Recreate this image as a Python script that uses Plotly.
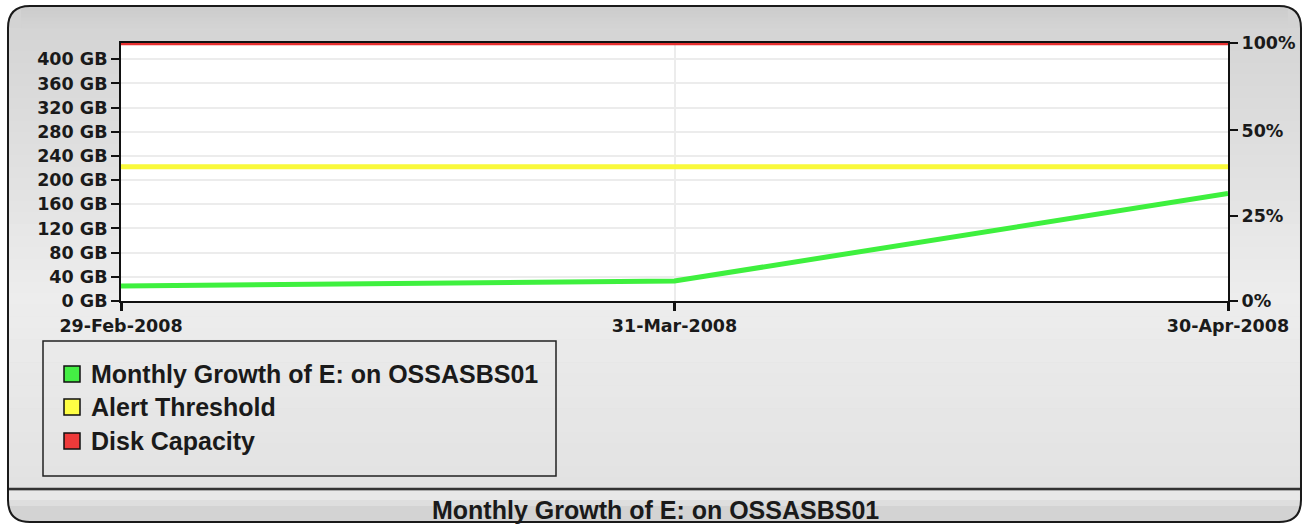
import plotly.graph_objects as go

# ---------------- data ----------------
dates = ["29-Feb-2008", "31-Mar-2008", "30-Apr-2008"]
growth_gb = [25, 33, 178]
alert_gb = [222, 222, 222]
capacity_gb = [427, 427, 427]
series_names = ["Monthly Growth of E: on OSSASBS01", "Alert Threshold", "Disk Capacity"]
series_colors = ["#3ef03e", "#f9f93a", "#e83030"]
legend_colors = ["#44ee44", "#ffff44", "#ee3a3a"]
gb_ticks = list(range(0, 401, 40))
gb_labels = [f"{v} GB" for v in gb_ticks]
pct_labels = ["0%", "25%", "50%", "100%"]
pct_positions = [0.0, 0.33, 0.661, 1.0]
title_text = "Monthly Growth of E: on OSSASBS01"

# ---------------- geometry helpers ----------------
WIDTH, HEIGHT = 1308, 526
L, R, T, B = 121, 80, 43, 225
PW = WIDTH - L - R
PH = HEIGHT - T - B
BOTTOM = HEIGHT - B


def fx(px):
    return (px - L) / PW


def fy(py):
    return (BOTTOM - py) / PH


def rounded_path(x0, y0, x1, y1, r):
    pts = [
        ("M", [(x0 + r, y0)]), ("L", [(x1 - r, y0)]), ("Q", [(x1, y0), (x1, y0 + r)]),
        ("L", [(x1, y1 - r)]), ("Q", [(x1, y1), (x1 - r, y1)]), ("L", [(x0 + r, y1)]),
        ("Q", [(x0, y1), (x0, y1 - r)]), ("L", [(x0, y0 + r)]), ("Q", [(x0, y0), (x0 + r, y0)]),
    ]
    s = ""
    for cmd, ps in pts:
        s += cmd + " " + " ".join(f"{fx(a):.5f},{fy(b):.5f}" for a, b in ps) + " "
    return s + "Z"


def grey(v):
    v = int(round(v))
    return f"rgb({v},{v},{v})"


fig = go.Figure()

line_w = 5
fig.add_trace(go.Scatter(x=dates, y=growth_gb, mode="lines", line=dict(color=series_colors[0], width=line_w),
                         name=series_names[0], showlegend=False, cliponaxis=False))
fig.add_trace(go.Scatter(x=dates, y=alert_gb, mode="lines", line=dict(color=series_colors[1], width=line_w),
                         name=series_names[1], showlegend=False, cliponaxis=False))
fig.add_trace(go.Scatter(x=dates, y=capacity_gb, mode="lines", line=dict(color=series_colors[2], width=4.5),
                         name=series_names[2], showlegend=False, cliponaxis=False))
# invisible trace for right axis
fig.add_trace(go.Scatter(x=dates, y=[None, None, None], yaxis="y2", showlegend=False, hoverinfo="skip"))

shapes = []
PX0, PY0, PX1, PY1, RAD = 8, 6, 1301, 522, 22
# panel base
shapes.append(dict(type="path", path=rounded_path(PX0, PY0, PX1, PY1, RAD), xref="paper", yref="paper",
                   fillcolor="#d3d3d3", line=dict(width=0), layer="below"))
# gradient bands inside the panel body
n = 40
y_start, y_end = PY0 + RAD, 489
for i in range(n):
    ya = y_start + (y_end - y_start) * i / n
    yb = y_start + (y_end - y_start) * (i + 1) / n
    t = (ya + yb) / 2
    if t < 300:
        v = 212 + (237 - 212) * (t - y_start) / (300 - y_start)
    else:
        v = 237 - (237 - 226) * (t - 300) / (489 - 300)
    shapes.append(dict(type="rect", xref="paper", yref="paper", x0=fx(PX0 + 1), x1=fx(PX1 - 1),
                       y0=fy(yb + 0.5), y1=fy(ya), fillcolor=grey(v), line=dict(width=0), layer="below"))
# top strip between corners
for i in range(6):
    ya = PY0 + 1 + (RAD - 1) * i / 6
    yb = PY0 + 1 + (RAD - 1) * (i + 1) / 6
    v = 204 + (212 - 204) * (i + 0.5) / 6
    shapes.append(dict(type="rect", xref="paper", yref="paper", x0=fx(PX0 + RAD * 0.6), x1=fx(PX1 - RAD * 0.6),
                       y0=fy(yb + 0.5), y1=fy(ya), fillcolor=grey(v), line=dict(width=0), layer="below"))
# bottom bar
shapes.append(dict(type="rect", xref="paper", yref="paper", x0=fx(PX0 + 1), x1=fx(PX1 - 1),
                   y0=fy(500), y1=fy(491), fillcolor="#e8e8e8", line=dict(width=0), layer="below"))
shapes.append(dict(type="rect", xref="paper", yref="paper", x0=fx(PX0 + 1), x1=fx(PX1 - 1),
                   y0=fy(506), y1=fy(500), fillcolor="#dedede", line=dict(width=0), layer="below"))
# separator line
shapes.append(dict(type="line", xref="paper", yref="paper", x0=fx(PX0), x1=fx(PX1), y0=fy(489), y1=fy(489),
                   line=dict(color="#333333", width=2.5), layer="below"))
# panel border
shapes.append(dict(type="path", path=rounded_path(PX0, PY0, PX1, PY1, RAD), xref="paper", yref="paper",
                   fillcolor="rgba(0,0,0,0)", line=dict(color="#1a1a1a", width=2), layer="below"))
# white plot area
shapes.append(dict(type="rect", xref="paper", yref="paper", x0=0, x1=1, y0=0, y1=1,
                   fillcolor="white", line=dict(width=0), layer="below"))
# legend box
shapes.append(dict(type="rect", xref="paper", yref="paper", x0=fx(43), x1=fx(556), y0=fy(476), y1=fy(341),
                   fillcolor="rgba(0,0,0,0)", line=dict(color="#222222", width=1.5), layer="below"))

annotations = []
legend_y = [374, 407, 441]
for name, col, yy in zip(series_names, legend_colors, legend_y):
    shapes.append(dict(type="rect", xref="paper", yref="paper", x0=fx(64), x1=fx(80), y0=fy(yy + 8), y1=fy(yy - 8),
                       fillcolor=col, line=dict(color="#111111", width=1.5), layer="above"))
    annotations.append(dict(xref="paper", yref="paper", x=fx(89), y=fy(yy), text=name, showarrow=False,
                            xanchor="left", yanchor="middle",
                            font=dict(family="Liberation Sans", size=25, color="#1a1a1a", weight="bold")))

annotations.append(dict(xref="paper", yref="paper", x=fx(655), y=fy(510), text=title_text, showarrow=False,
                        xanchor="center", yanchor="middle",
                        font=dict(family="Liberation Sans", size=25, color="#1a1a1a", weight="bold")))

tick_font = dict(family="DejaVu Sans", size=17.5, color="#1a1a1a", weight="bold")

fig.update_layout(
    width=WIDTH, height=HEIGHT,
    margin=dict(l=L, r=R, t=T, b=B),
    paper_bgcolor="white", plot_bgcolor="white",
    shapes=shapes, annotations=annotations,
    showlegend=False,
    xaxis=dict(type="category", range=[0, 2], showgrid=True, gridcolor="#ececec", gridwidth=1.5,
               showline=True, linecolor="#111111", linewidth=2, mirror=True,
               ticks="outside", ticklen=8, tickwidth=3, tickcolor="#111111",
               tickfont=tick_font, zeroline=False),
    yaxis=dict(range=[0, capacity_gb[0]], tickmode="array", tickvals=gb_ticks, ticktext=gb_labels,
               showgrid=True, gridcolor="#ececec", gridwidth=1.5,
               showline=True, linecolor="#111111", linewidth=2,
               ticks="outside", ticklen=8, tickwidth=1.5, tickcolor="#111111",
               tickfont=tick_font, zeroline=False),
    yaxis2=dict(range=[0, 1], overlaying="y", side="right", tickmode="array",
                tickvals=pct_positions, ticktext=pct_labels,
                showgrid=False, showline=True, linecolor="#111111", linewidth=2,
                ticks="outside", ticklen=8, tickwidth=1.5, tickcolor="#111111",
                tickfont=tick_font, zeroline=False),
)

fig.write_html("out.html", config={"displayModeBar": False},
               post_script="document.body.style.margin='0';document.body.style.padding='0';")
